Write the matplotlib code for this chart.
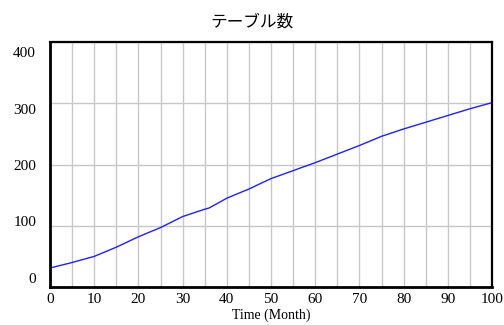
import matplotlib
matplotlib.use("Agg")
import matplotlib.pyplot as plt
import matplotlib.transforms as mtransforms
from matplotlib.ticker import MultipleLocator

# Number of tables over time (months)
months = [0, 5, 10, 15, 20, 25, 30, 35, 36, 37, 40, 45, 50, 55, 60, 65, 70, 75, 80, 85, 90, 95, 100]
tables = [31, 40, 50, 65, 82, 97, 115, 127, 129, 133, 145, 160, 177, 190, 203, 217, 231, 246, 258, 269, 280, 291, 301]

title = "テーブル数"
xlabel = "Time (Month)"
xticks = [0, 10, 20, 30, 40, 50, 60, 70, 80, 90, 100]
yticks = [0, 100, 200, 300, 400]

fig = plt.figure(figsize=(5.04, 3.25), dpi=100)
ax = fig.add_axes([50 / 504, 38 / 325, 442 / 504, 245 / 325])

ax.plot(months, tables, color="#2020ff", lw=1.0)

ax.set_xlim(0, 100)
ax.set_ylim(0, 400)
ax.set_xticks(xticks)
ax.set_yticks(yticks)
ax.xaxis.set_minor_locator(MultipleLocator(5))
ax.grid(True, which="both", axis="x", color="#c8c8c8", lw=1.0)
ax.grid(True, which="major", axis="y", color="#c8c8c8", lw=1.0)
ax.set_axisbelow(True)

serif = "Liberation Serif"
ax.tick_params(axis="both", which="both", length=0, labelsize=11)
ax.tick_params(axis="x", pad=4)
ax.tick_params(axis="y", pad=10)
for lab in ax.get_xticklabels() + ax.get_yticklabels():
    lab.set_fontfamily(serif)

# y labels sit slightly inside the plotting range
for lab, v in zip(ax.get_yticklabels(), yticks):
    dy = -(10 - (400 - v) / 100 * 4.75) / 100
    lab.set_transform(lab.get_transform() +
                      mtransforms.ScaledTranslation(0, dy, fig.dpi_scale_trans))

for side in ["left", "bottom"]:
    ax.spines[side].set_linewidth(2.0)
for side in ["top", "right"]:
    ax.spines[side].set_linewidth(1.6)

ax.set_xlabel(xlabel, fontfamily=serif, fontsize=10, labelpad=2)
fig.text(252 / 504, 1 - 22 / 325, title, ha="center", va="center",
         fontsize=12, fontweight="normal", family=["Noto Sans CJK JP", "DejaVu Sans"])

fig.savefig("out.png", dpi=100)
